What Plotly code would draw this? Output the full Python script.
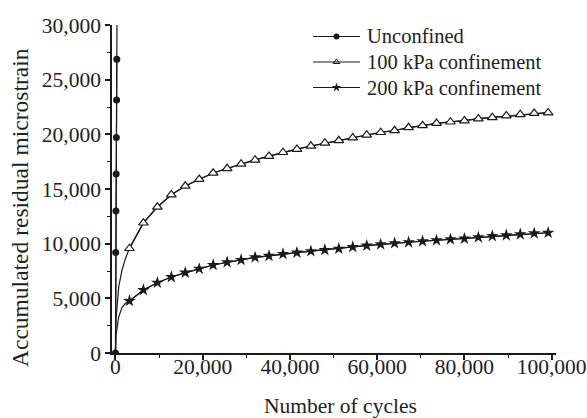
import plotly.graph_objects as go

# ---- data ----
cycles_unconfined = [0, 50, 100, 150, 200, 250, 300]
strain_unconfined = [0, 9200, 12990, 16380, 19700, 23150, 26870]
cycles_unconfined_tail = [350]
strain_unconfined_tail = [30400]

cycles_early = [0, 100, 750, 1500, 2300]
strain100_early = [0, 3000, 6070, 7600, 8650]
strain200_early = [0, 1600, 3320, 4180, 4550]

cycles_marked = [3200, 6400, 9600, 12800, 16000, 19200, 22400, 25600, 28800, 32000,
                 35200, 38400, 41600, 44800, 48000, 51200, 54400, 57600, 60800, 64000,
                 67200, 70400, 73600, 76800, 80000, 83200, 86400, 89600, 92800, 96000,
                 99200]
strain100 = [9570, 11900, 13350, 14480, 15270, 15890, 16460, 16870, 17290, 17660,
             18000, 18350, 18640, 18930, 19210, 19430, 19690, 19940, 20180, 20350,
             20620, 20800, 21010, 21140, 21250, 21430, 21540, 21700, 21820, 21920,
             21980]
strain200 = [4760, 5760, 6430, 6950, 7350, 7700, 8050, 8300, 8510, 8750,
             8880, 9060, 9180, 9310, 9420, 9540, 9700, 9820, 9940, 10040,
             10130, 10220, 10310, 10400, 10460, 10580, 10700, 10770, 10860, 10950,
             11000]

x_ticks = [0, 20000, 40000, 60000, 80000, 100000]
y_ticks = [0, 5000, 10000, 15000, 20000, 25000, 30000]

series_names = ["Unconfined", "100 kPa confinement", "200 kPa confinement"]

FONT = "Liberation Serif, Times New Roman, serif"
INK = "#1a1a1a"
TXT = "#222222"
LINE = dict(color=INK, width=1.2)

# plot-area geometry (pixels) used for layout placement
W, H = 587, 418
ML, MR, MT, MB = 112, 31, 25, 65
PW, PH = W - ML - MR, H - MT - MB


def px_x(p):
    return (p - ML) / PW


def px_y(p):
    return (H - MB - p) / PH


fig = go.Figure()

# Unconfined
fig.add_trace(go.Scatter(
    x=cycles_unconfined + cycles_unconfined_tail,
    y=strain_unconfined + strain_unconfined_tail,
    mode="lines", line=LINE, showlegend=False, hoverinfo="skip"))
fig.add_trace(go.Scatter(
    x=cycles_unconfined, y=strain_unconfined, name=series_names[0],
    mode="lines+markers", line=LINE, showlegend=False,
    marker=dict(symbol="circle", size=7, color=INK)))

# 100 kPa
fig.add_trace(go.Scatter(
    x=cycles_early + cycles_marked, y=strain100_early + strain100,
    mode="lines", line=LINE, showlegend=False, hoverinfo="skip"))
fig.add_trace(go.Scatter(
    x=cycles_marked, y=strain100, name=series_names[1],
    mode="lines+markers", line=LINE, showlegend=False,
    marker=dict(symbol="triangle-up", size=8.5, color="white",
                line=dict(color=INK, width=1.2))))

# 200 kPa
fig.add_trace(go.Scatter(
    x=cycles_early + cycles_marked, y=strain200_early + strain200,
    mode="lines", line=LINE, showlegend=False, hoverinfo="skip"))
fig.add_trace(go.Scatter(
    x=cycles_marked, y=strain200, name=series_names[2],
    mode="lines+markers", line=LINE, showlegend=False,
    marker=dict(symbol="star", size=9.5, color=INK)))

# ---- hand-placed legend (line sample + marker + text) ----
leg_rows_px = [36.5, 62, 87.5]
leg_x0, leg_x1, leg_text = 313, 360, 367
leg_symbols = [dict(symbol="circle", size=6, color=INK),
               dict(symbol="triangle-up", size=6, color="white",
                    line=dict(color=INK, width=1)),
               dict(symbol="star", size=7, color=INK)]
annotations = []
shapes = []
for name, ry, sym in zip(series_names, leg_rows_px, leg_symbols):
    yy = px_y(ry)
    shapes.append(dict(type="line", xref="paper", yref="paper",
                       x0=px_x(leg_x0), x1=px_x(leg_x1), y0=yy, y1=yy,
                       line=dict(color=INK, width=1.2)))
    fig.add_trace(go.Scatter(x=[px_x((leg_x0 + leg_x1) / 2)], y=[yy],
                             xaxis="x2", yaxis="y2", mode="markers",
                             marker=sym, showlegend=False, hoverinfo="skip",
                             cliponaxis=False))
    annotations.append(dict(text=name, xref="paper", yref="paper",
                            x=px_x(leg_text - 2), y=yy, xanchor="left", yanchor="middle",
                            showarrow=False, font=dict(family=FONT, size=20.5, color=TXT)))

annotations.append(dict(text="Number of cycles", xref="paper", yref="paper",
                        x=px_x(340), y=px_y(406), xanchor="center", yanchor="middle",
                        showarrow=False, font=dict(family=FONT, size=21.5, color=TXT)))
annotations.append(dict(text="Accumulated residual microstrain", xref="paper", yref="paper",
                        x=px_x(20), y=px_y(208), xanchor="center", yanchor="middle",
                        textangle=-90, showarrow=False,
                        font=dict(family=FONT, size=23.5, color=TXT)))

axis_common = dict(showgrid=False, zeroline=False, showline=True,
                   linecolor=INK, linewidth=1.5, ticks="outside", ticklen=5,
                   tickwidth=1.5, tickcolor=INK, automargin=False,
                   tickfont=dict(family=FONT, size=21.5, color=TXT),
                   tickformat=",d", tickmode="array")

fig.update_layout(
    width=W, height=H,
    margin=dict(l=ML, r=MR, t=MT, b=MB),
    paper_bgcolor="white", plot_bgcolor="white",
    font=dict(family=FONT, size=20, color=TXT),
    showlegend=False,
    xaxis=dict(range=[-800, 101000], tickvals=x_ticks, ticklabelstandoff=-12,
               minor=dict(ticks="outside", ticklen=3, tickwidth=1.2,
                          tickcolor=INK, dtick=10000, tick0=0, showgrid=False),
               **axis_common),
    yaxis=dict(range=[0, 30000], tickvals=y_ticks,
               minor=dict(ticks="outside", ticklen=3, tickwidth=1.2,
                          tickcolor=INK, dtick=2500, tick0=0, showgrid=False),
               **axis_common),
    xaxis2=dict(range=[0, 1], overlaying="x", visible=False, domain=[0, 1]),
    yaxis2=dict(range=[0, 1], overlaying="y", visible=False, domain=[0, 1]),
    annotations=annotations,
    shapes=shapes,
)

fig.write_html("out.html")
